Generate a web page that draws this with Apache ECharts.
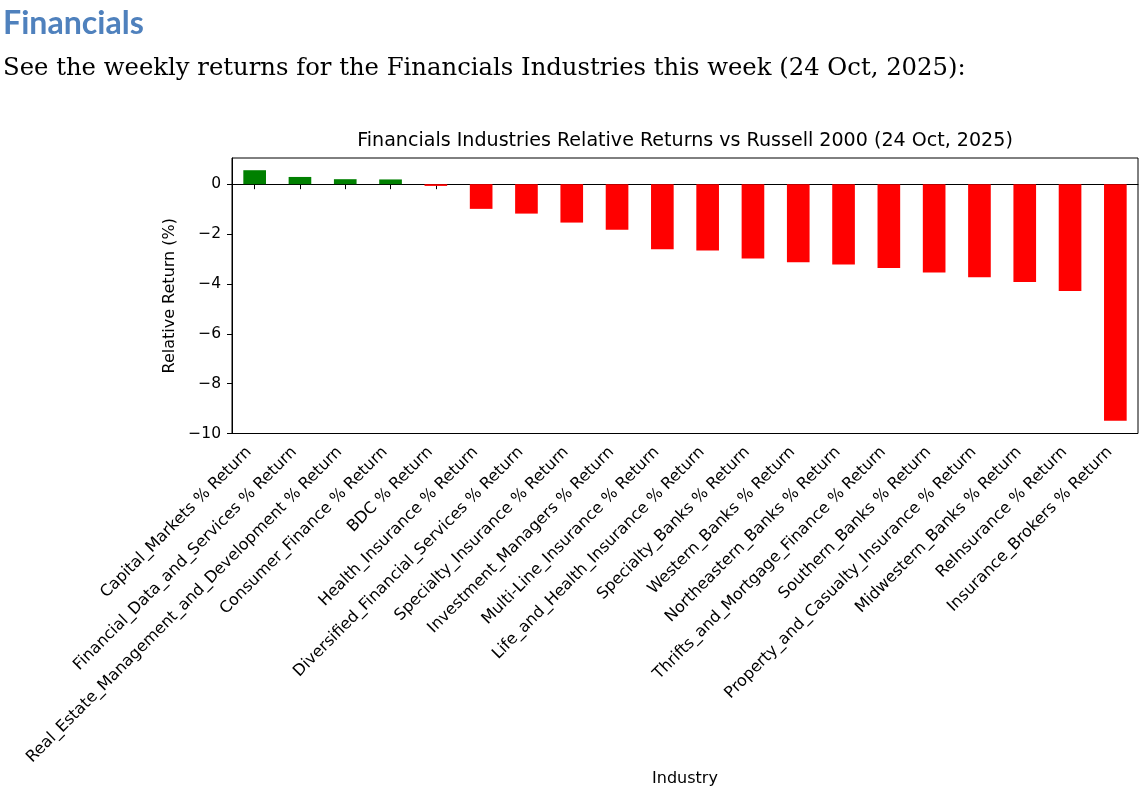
<!DOCTYPE html>
<html>
<head>
<meta charset="utf-8">
<script src="https://cdn.jsdelivr.net/npm/echarts@6/dist/echarts.min.js"></script>
<style>
html,body{margin:0;padding:0;background:#fff;}
#chart{width:1146px;height:808px;}
</style>
</head>
<body>
<div id="chart"></div>
<script>
// ---- data ----
const categories = [
  "Capital_Markets % Return",
  "Financial_Data_and_Services % Return",
  "Real_Estate_Management_and_Development % Return",
  "Consumer_Finance % Return",
  "BDC % Return",
  "Health_Insurance % Return",
  "Diversified_Financial_Services % Return",
  "Specialty_Insurance % Return",
  "Investment_Managers % Return",
  "Multi-Line_Insurance % Return",
  "Life_and_Health_Insurance % Return",
  "Specialty_Banks % Return",
  "Western_Banks % Return",
  "Northeastern_Banks % Return",
  "Thrifts_and_Mortgage_Finance % Return",
  "Southern_Banks % Return",
  "Property_and_Casualty_Insurance % Return",
  "Midwestern_Banks % Return",
  "ReInsurance % Return",
  "Insurance_Brokers % Return"
];
const relReturns = [0.56, 0.29, 0.20, 0.19, -0.07, -0.99, -1.18, -1.54, -1.83, -2.61,
                    -2.66, -2.98, -3.13, -3.22, -3.36, -3.54, -3.73, -3.92, -4.28, -9.49];
const yTicks = [-10, -8, -6, -4, -2, 0];
const headingText = "Financials";
const subText = "See the weekly returns for the Financials Industries this week (24 Oct, 2025):";
const chartTitle = "Financials Industries Relative Returns vs Russell 2000 (24 Oct, 2025)";

// ---- helpers ----
const mctx = document.createElement('canvas').getContext('2d');
function fitSize(text, weight, family, target, base) {
  mctx.font = weight + ' ' + base + 'px ' + family;
  const w = mctx.measureText(text).width;
  return base * target / w;
}
const headSize = fitSize(headingText, 'bold', 'Lato', 141, 31);
const subSize = fitSize(subText, 'normal', '"DejaVu Serif"', 963, 23);
const titleSize = fitSize(chartTitle, 'normal', '"DejaVu Sans"', 656, 19);
const lblSize = 16;

const chart = echarts.init(document.getElementById('chart'), null, {renderer: 'canvas'});
const option = {
  animation: false,
  backgroundColor: '#fff',
  grid: {left: 232, right: 8, top: 158, bottom: 374.5, show: true, borderColor: '#000', borderWidth: 1, backgroundColor: 'transparent'},
  graphic: [
    {type: 'text', x: 3, y: 23.5, style: {text: headingText, fontFamily: 'Lato', fontWeight: 'bold', fontSize: headSize, fill: '#4f81bd', verticalAlign: 'middle'}},
    {type: 'text', x: 3, y: 69, style: {text: subText, fontFamily: '"DejaVu Serif"', fontSize: subSize, fill: '#000', verticalAlign: 'middle'}},
    {type: 'text', x: 685, y: 141, style: {text: chartTitle, fontFamily: '"DejaVu Sans"', fontSize: titleSize, fill: '#000', align: 'center', verticalAlign: 'middle'}}
  ],
  xAxis: {
    type: 'category',
    data: categories,
    axisLine: {show: true, lineStyle: {color: '#000', width: 1}},
    axisTick: {show: true, alignWithLabel: true, interval: 0, length: 5, lineStyle: {color: '#000', width: 1}},
    axisLabel: {interval: 0, rotate: 45, fontFamily: '"DejaVu Sans"', fontSize: lblSize, color: '#000', margin: 10.6, padding: [0, 8, 0, 0]},
    splitLine: {show: false},
    name: 'Industry',
    nameLocation: 'middle',
    nameGap: 337,
    nameTextStyle: {fontFamily: '"DejaVu Sans"', fontSize: lblSize, color: '#000'}
  },
  yAxis: {
    type: 'value',
    min: -10,
    max: 1.05,
    axisLine: {show: true, lineStyle: {color: '#000', width: 1}},
    axisTick: {show: true, length: 5, customValues: yTicks, lineStyle: {color: '#000', width: 1}},
    axisLabel: {customValues: yTicks, fontFamily: '"DejaVu Sans"', fontSize: 15.5, color: '#000', margin: 11,
      formatter: v => v < 0 ? '\u2212' + Math.abs(v) : String(v)},
    splitLine: {show: false},
    name: 'Relative Return (%)',
    nameLocation: 'middle',
    nameGap: 52,
    nameTextStyle: {fontFamily: '"DejaVu Sans"', fontSize: lblSize, color: '#000'}
  },
  series: [{
    type: 'bar',
    barWidth: '50%',
    data: relReturns.map(v => ({value: v, itemStyle: {color: v >= 0 ? '#008000' : '#ff0000'}}))
  }]
};
chart.setOption(option);
</script>
</body>
</html>
